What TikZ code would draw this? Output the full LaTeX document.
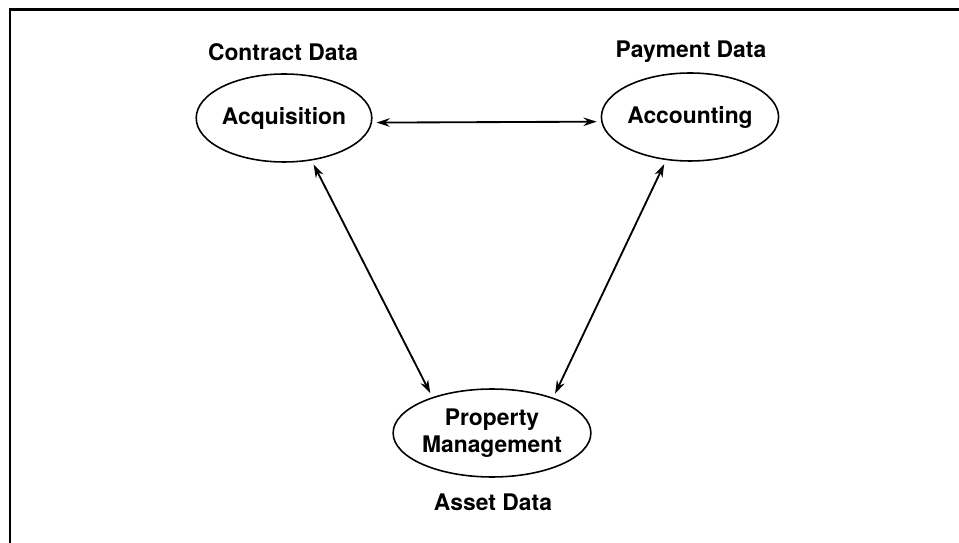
\documentclass[tikz,border=0pt]{standalone}
\usepackage{fontspec}
\setsansfont{TeX Gyre Heros}
\usetikzlibrary{shapes.geometric,arrows.meta}
\begin{document}
\begin{tikzpicture}[x=0.02cm, y=-0.02cm,
		system/.style={ellipse, draw, line width=0.9pt, inner sep=0pt,
			minimum width=3.38cm, minimum height=1.76cm,
			font=\sffamily\bfseries\fontsize{13}{15}\selectfont, align=center},
		datalabel/.style={font=\sffamily\bfseries\fontsize{13}{15}\selectfont},
		link/.style={{Stealth[length=7.5pt,width=4.8pt]}-{Stealth[length=7.5pt,width=4.8pt]},
			line width=1.05pt, shorten <=2.5pt, shorten >=2.5pt}]
		\useasboundingbox ( 0, 0 ) rectangle ( 959, 543 );

		% рамка
		\draw [line width=1.7pt] ( 10, 543 ) -- ( 10, 10 ) -- ( 959, 10 );

		% системы
		\node [system] (acq) at ( 284, 118 ) {Acquisition};
		\node [system] (acc) at ( 690, 117 ) {Accounting};
		\node [system] (pm) at ( 492, 433 ) {Property\\Management};

		% данные
		\node [datalabel] (contract) at ( 283, 52 ) {Contract Data};
		\node [datalabel] (payment) at ( 691, 52 ) {Payment Data};
		\node [datalabel] (asset) at ( 493, 502 ) {Asset Data};

		% связи
		\draw [link] (acq.-3) -- (acc.183);
		\draw [link] (acq.-57) -- (pm.149);
		\draw [link] (acc.-119) -- (pm.30);
	\end{tikzpicture}
\end{document}
